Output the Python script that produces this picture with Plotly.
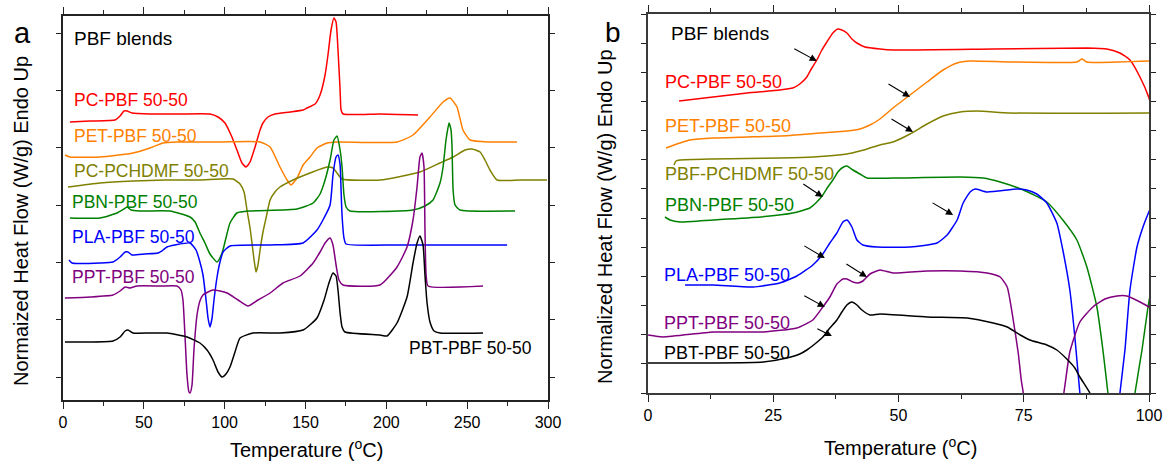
import plotly.graph_objects as go

FONT = "Liberation Sans, Arial, Helvetica, sans-serif"

# ---------------- Panel a : full DSC scans (Temperature in degC, heat flow in a.u.) ----------------
a_pc_pbf_T = [4.3, 16.7, 32.2, 35.3, 37.7, 39.6, 42.7, 53.8, 72.4, 90.9, 95.9, 100.2, 104.5, 107.6, 110.7, 113.2,
              115.7, 118.8, 121.9, 123.7, 126.8, 131.1, 140.4, 148.5, 150.9, 155.9, 159.0, 162.1, 163.9, 165.8,
              167.6, 168.9, 170.1, 171.4, 172.0, 173.2, 196.1, 219.6]
a_pc_pbf_Y = [278, 279, 280, 284, 289, 289, 287, 286, 286, 286, 283, 277, 263, 250, 237, 233, 238, 253, 270, 277,
              283, 286, 288, 290, 292, 296, 305, 325, 345, 370, 382, 378, 350, 310, 290, 286, 286, 285]

a_pet_pbf_T = [1.2, 4.3, 22.9, 43.3, 53.8, 61.9, 70.5, 97.1, 121.9, 128.1, 134.2, 138.6, 141.0, 144.8, 148.5,
               152.8, 157.1, 163.3, 169.5, 206.6, 216.5, 227.0, 235.1, 239.4, 243.7, 247.4, 251.8, 264.1, 280.8]
a_pet_pbf_Y = [245, 243, 243, 247, 252, 257, 258, 258, 258, 253, 233, 220, 215, 222, 235, 243, 252, 257, 258, 258,
               265, 283, 298, 302, 293, 270, 260, 258, 258]

a_pc_pchdmf_T = [3.1, 22.9, 43.3, 63.1, 84.7, 105.2, 109.5, 112.0, 113.8, 115.7, 116.9, 118.2, 119.4, 120.6, 121.9,
                 123.7, 125.6, 128.1, 131.1, 134.2, 142.3, 152.8, 163.3, 167.0, 169.5, 172.6, 196.1, 220.8, 233.2,
                 241.3, 248.7, 253.0, 258.0, 261.0, 264.1, 268.5, 282.7, 299.4]
a_pc_pchdmf_Y = [213, 217, 219, 220, 220, 221, 216, 208, 190, 172, 157, 140, 128, 135, 150, 168, 182, 200, 208, 213,
                 220, 227, 233, 232, 227, 221, 220, 228, 237, 243, 250, 251, 248, 240, 230, 220, 220, 220]

a_pbn_pbf_T = [4.3, 22.9, 33.4, 37.7, 39.6, 42.1, 47.6, 66.2, 78.6, 81.7, 84.7, 87.8, 90.9, 95.3, 98.4, 100.8,
               103.3, 107.6, 115.7, 144.8, 154.7, 159.0, 162.1, 165.2, 167.6, 169.5, 171.4, 172.6, 173.8, 175.1,
               177.5, 216.5, 223.9, 228.9, 233.2, 235.1, 236.9, 238.8, 240.0, 240.6, 241.3, 242.5, 245.6, 279.6]
a_pbn_pbf_Y = [182, 182, 187, 191, 193, 190, 189, 189, 183, 178, 167, 157, 146, 138, 147, 162, 177, 187, 189, 191,
               197, 206, 220, 240, 260, 264, 250, 233, 205, 193, 189, 190, 194, 200, 217, 233, 260, 277, 270, 255,
               210, 195, 190, 189]

a_pla_pbf_T = [3.7, 5.6, 22.9, 30.9, 35.3, 38.4, 40.2, 42.7, 50.7, 58.8, 61.9, 64.3, 69.3, 78.6, 82.3, 84.7, 86.6,
               88.5, 89.7, 90.9, 92.2, 93.4, 95.3, 97.1, 99.0, 103.3, 128.1, 148.5, 157.1, 160.8, 165.2, 167.0,
               168.9, 170.1, 171.4, 172.0, 172.6, 173.8, 175.1, 208.5, 274.7]
a_pla_pbf_Y = [140, 137, 137, 138, 143, 148, 148, 145, 146, 147, 150, 153, 155, 157, 150, 138, 125, 100, 82, 73,
               82, 100, 123, 138, 148, 154, 155, 157, 170, 180, 195, 225, 243, 245, 235, 210, 185, 162, 156, 155, 155]

a_ppt_pbf_T = [1.2, 16.7, 30.9, 35.3, 38.4, 41.4, 45.8, 60.0, 70.5, 73.0, 74.2, 75.5, 76.7, 77.9, 78.6, 79.8, 81.0,
               82.9, 84.7, 86.6, 89.7, 92.8, 97.1, 101.5, 108.3, 114.4, 120.6, 128.1, 136.1, 146.6, 154.7, 159.0,
               162.1, 165.2, 167.0, 168.9, 170.7, 173.2, 196.1, 206.6, 212.8, 216.5, 219.0, 220.8, 222.1, 223.3,
               223.9, 224.6, 225.8, 259.8]
a_ppt_pbf_Y = [102, 103, 105, 109, 113, 112, 114, 114, 114, 110, 100, 63, 25, 8, 7, 15, 50, 85, 99, 105, 108, 110,
               109, 107, 100, 94, 100, 107, 117, 124, 137, 148, 157, 162, 155, 135, 120, 115, 115, 133, 153, 180,
               213, 243, 247, 233, 170, 125, 114, 114]

a_pbt_pbf_T = [1.2, 16.7, 30.9, 35.3, 38.4, 40.2, 43.3, 53.8, 64.3, 76.7, 84.7, 89.1, 92.8, 95.9, 98.4, 100.8,
               103.3, 106.4, 109.5, 117.5, 134.2, 148.5, 157.1, 161.5, 164.5, 167.0, 168.9, 170.1, 171.4, 172.6,
               174.4, 196.1, 200.4, 206.6, 212.8, 216.5, 219.0, 220.8, 222.7, 223.9, 225.2, 227.0, 229.5, 233.2,
               259.8]
a_pbt_pbf_Y = [58, 58, 59, 63, 69, 70, 67, 67, 67, 63, 57, 50, 40, 28, 23, 26, 33, 48, 62, 67, 67, 70, 82, 100, 117,
               127, 124, 110, 87, 73, 68, 65, 64, 77, 103, 137, 157, 164, 155, 125, 97, 78, 69, 67, 67]

# ---------------- Panel b : zoom on the glass-transition region ----------------
b_pc_pbf_T = [6.2, 13.0, 19.8, 26.3, 28.9, 30.3, 31.7, 32.7, 33.7, 34.7, 35.7, 36.9, 37.9, 38.7, 39.7, 40.7, 41.7,
              43.3, 46.3, 48.9, 68.9, 87.6, 91.6, 94.2, 96.2, 98.2, 100.0, 100.6]
b_pc_pbf_Y = [292, 296, 300, 303, 305, 309, 316, 325, 333, 343, 351, 360, 364, 363, 360, 354, 350, 346, 344, 343,
              344, 345, 344, 340, 333, 316, 295, 283]

b_pet_pbf_T = [3.6, 6.4, 8.4, 13.0, 19.8, 26.3, 34.3, 39.7, 42.3, 44.3, 46.3, 48.9, 52.3, 55.7, 58.9, 61.7, 64.3,
               72.3, 85.6, 86.6, 87.6, 100.0]
b_pet_pbf_Y = [245, 250, 253, 255, 256, 257, 260, 262, 264, 268, 274, 285, 298, 311, 323, 330, 332, 331, 331, 334,
               331, 332]

b_pbf_pchdmf_T = [5.2, 5.6, 6.4, 13.0, 26.3, 32.9, 39.7, 42.3, 44.3, 46.3, 48.9, 52.3, 55.7, 58.9, 62.3, 65.7,
                  72.3, 100.0]
b_pbf_pchdmf_Y = [228, 232, 233, 234, 235, 236, 239, 242, 245, 248, 251, 259, 269, 277, 281, 282, 280, 280]

b_pbn_pbf_T = [3.4, 4.4, 6.4, 13.0, 22.4, 28.9, 32.3, 33.7, 34.9, 35.9, 36.9, 37.9, 38.7, 39.7, 40.9, 42.3, 43.7,
               48.9, 62.3, 66.9, 70.3, 74.9, 79.6, 82.8, 85.6, 87.6, 89.6, 90.8, 91.8, 92.6, 94.4, 96.2, 97.2, 98.6,
               99.8, 100.6]
b_pbn_pbf_Y = [176, 173, 171, 173, 176, 180, 185, 191, 198, 206, 213, 221, 225, 227, 223, 219, 215, 215, 216, 215,
               211, 203, 191, 173, 153, 126, 86, 43, 0, -37, -67, -37, 0, 43, 86, 108]

b_pla_pbf_T = [7.4, 13.0, 21.0, 26.3, 29.7, 32.9, 34.9, 36.3, 37.7, 38.9, 39.7, 40.7, 41.7, 42.9, 45.7, 52.3, 57.7,
               59.7, 61.7, 62.9, 64.3, 65.3, 67.7, 73.7, 75.6, 77.6, 79.6, 81.6, 82.8, 84.2, 85.2, 86.2, 87.2, 90.2,
               93.2, 94.2, 95.2, 96.2, 97.6, 98.8, 99.8, 100.6]
b_pla_pbf_Y = [108, 108, 106, 110, 117, 128, 139, 150, 160, 171, 173, 166, 153, 148, 146, 146, 150, 158, 173, 190,
               201, 204, 201, 204, 203, 199, 190, 170, 143, 103, 56, 0, -47, -77, -47, 0, 43, 103, 146, 166, 179, 188]

b_ppt_pbf_T = [0.0, 3.0, 13.0, 23.0, 29.7, 32.9, 34.9, 36.3, 37.7, 38.9, 39.7, 40.9, 41.9, 42.9, 44.3, 46.3, 48.9,
               55.7, 62.3, 67.7, 70.3, 71.7, 72.9, 73.9, 74.5, 74.9, 75.5, 78.2, 81.2, 83.0, 84.2, 86.2, 88.8, 91.2,
               93.6, 95.6, 98.2, 100.0, 100.6]
b_ppt_pbf_Y = [58, 56, 61, 61, 65, 73, 86, 96, 109, 114, 114, 111, 110, 112, 119, 123, 120, 122, 122, 120, 116, 106,
               73, 40, 13, 0, -37, -77, -47, 0, 41, 71, 86, 94, 97, 97, 91, 86, 84]

b_pbt_pbf_T = [0.0, 13.0, 23.0, 27.7, 30.3, 31.7, 33.3, 34.9, 36.3, 37.7, 38.7, 39.7, 40.7, 41.7, 42.7, 44.3, 46.3,
               55.7, 63.7, 68.9, 71.7, 74.3, 76.2, 79.6, 81.6, 83.6, 85.2, 86.2, 88.2, 89.2]
b_pbt_pbf_Y = [30, 30, 31, 35, 39, 43, 49, 56, 65, 73, 81, 88, 91, 88, 83, 78, 79, 76, 75, 70, 66, 58, 53, 48, 43,
               34, 25, 16, 0, -12]

# labels (text, colour)
a_labels = ["PC-PBF 50-50", "PET-PBF 50-50", "PC-PCHDMF 50-50", "PBN-PBF 50-50",
            "PLA-PBF 50-50", "PPT-PBF 50-50", "PBT-PBF 50-50"]
b_labels = ["PC-PBF 50-50", "PET-PBF 50-50", "PBF-PCHDMF 50-50", "PBN-PBF 50-50",
            "PLA-PBF 50-50", "PPT-PBF 50-50", "PBT-PBF 50-50"]
colors = ["#FF0000", "#FF8000", "#808000", "#008000", "#0000FF", "#800080", "#000000"]

a_series = [(a_pc_pbf_T, a_pc_pbf_Y), (a_pet_pbf_T, a_pet_pbf_Y), (a_pc_pchdmf_T, a_pc_pchdmf_Y),
            (a_pbn_pbf_T, a_pbn_pbf_Y), (a_pla_pbf_T, a_pla_pbf_Y), (a_ppt_pbf_T, a_ppt_pbf_Y),
            (a_pbt_pbf_T, a_pbt_pbf_Y)]
b_series = [(b_pc_pbf_T, b_pc_pbf_Y), (b_pet_pbf_T, b_pet_pbf_Y), (b_pbf_pchdmf_T, b_pbf_pchdmf_Y),
            (b_pbn_pbf_T, b_pbn_pbf_Y), (b_pla_pbf_T, b_pla_pbf_Y), (b_ppt_pbf_T, b_ppt_pbf_Y),
            (b_pbt_pbf_T, b_pbt_pbf_Y)]

# label anchor points (data coords)
a_label_pos = [(5.6, 300), (5.6, 264), (5.6, 229), (4.3, 198), (4.3, 163), (4.3, 123), (212.8, 52)]
b_label_pos = [(3.0, 311), (3.0, 267), (3.0, 219), (3.0, 188), (2.8, 118), (2.8, 70), (2.8, 40)]

# arrows in panel b: (head T, head Y, tail T, tail Y)
b_arrows = [(33.7, 332, 28.9, 345), (52.3, 296, 47.7, 310), (52.9, 261, 48.3, 275), (34.9, 196, 30.7, 210),
            (60.9, 178, 56.5, 191), (35.3, 135, 30.9, 148), (43.7, 116, 39.3, 130), (35.3, 86, 30.9, 98),
            (36.7, 57, 33.5, 65)]

fig = go.Figure()
for (T, Y), c in zip(a_series, colors):
    fig.add_trace(go.Scatter(x=T, y=Y, mode="lines", line=dict(color=c, width=1.5, shape="spline", smoothing=0.5),
                             xaxis="x", yaxis="y", showlegend=False, hoverinfo="skip"))
for (T, Y), c in zip(b_series, colors):
    fig.add_trace(go.Scatter(x=T, y=Y, mode="lines", line=dict(color=c, width=1.5, shape="spline", smoothing=0.5),
                             xaxis="x2", yaxis="y2", showlegend=False, hoverinfo="skip"))

ann = []
# curve labels
ann.append(dict(x=5.6, y=362, xref="x", yref="y", text="PBF blends", showarrow=False, xanchor="left",
                yanchor="middle", font=dict(family=FONT, size=19, color="#000")))
for (x, y), t, c in zip(a_label_pos, a_labels, colors):
    ann.append(dict(x=x, y=y, xref="x", yref="y", text=t, showarrow=False, xanchor="left", yanchor="middle",
                    font=dict(family=FONT, size=17.5, color=c)))
ann.append(dict(x=4.2, y=359, xref="x2", yref="y2", text="PBF blends", showarrow=False, xanchor="left",
                yanchor="middle", font=dict(family=FONT, size=19, color="#000")))
for (x, y), t, c in zip(b_label_pos, b_labels, colors):
    ann.append(dict(x=x, y=y, xref="x2", yref="y2", text=t, showarrow=False, xanchor="left", yanchor="middle",
                    font=dict(family=FONT, size=18, color=c)))
for hx, hy, tx, ty in b_arrows:
    ann.append(dict(x=hx, y=hy, xref="x2", yref="y2", ax=tx, ay=ty, axref="x2", ayref="y2", text="",
                    showarrow=True, arrowhead=2, arrowsize=1.3, arrowwidth=1.1, arrowcolor="#000", standoff=0))

# panel letters
ann.append(dict(x=22 / 1163, y=1 - 33 / 462, xref="paper", yref="paper", text="a", showarrow=False,
                xanchor="center", yanchor="middle", font=dict(family=FONT, size=29, color="#000")))
ann.append(dict(x=613 / 1163, y=1 - 33 / 462, xref="paper", yref="paper", text="b", showarrow=False,
                xanchor="center", yanchor="middle", font=dict(family=FONT, size=28, color="#000")))
# axis titles
ann.append(dict(x=21 / 1163, y=1 - 221 / 462, xref="paper", yref="paper", text="Normaized Heat Flow (W/g) Endo Up",
                textangle=-90, showarrow=False, xanchor="center", yanchor="middle",
                font=dict(family=FONT, size=20, color="#000")))
ann.append(dict(x=605 / 1163, y=1 - 217 / 462, xref="paper", yref="paper", text="Normalized Heat Flow (W/g) Endo Up",
                textangle=-90, showarrow=False, xanchor="center", yanchor="middle",
                font=dict(family=FONT, size=20, color="#000")))
ann.append(dict(x=306 / 1163, y=1 - 448 / 462, xref="paper", yref="paper", text="Temperature (<sup>o</sup>C)",
                showarrow=False, xanchor="center", yanchor="middle", font=dict(family=FONT, size=20, color="#000")))
ann.append(dict(x=900 / 1163, y=1 - 446 / 462, xref="paper", yref="paper", text="Temperature (<sup>o</sup>C)",
                showarrow=False, xanchor="center", yanchor="middle", font=dict(family=FONT, size=20, color="#000")))


def axis_style(line_color, line_width):
    return dict(showgrid=False, zeroline=False, showline=True, linecolor=line_color, linewidth=line_width,
                mirror="allticks", ticks="outside", tickcolor="#222", tickwidth=1.2, automargin=False,
                tickfont=dict(family=FONT, size=16, color="#000"))


fig.update_layout(
    width=1163, height=462, autosize=False,
    margin=dict(l=0, r=0, t=0, b=0, pad=0),
    paper_bgcolor="white", plot_bgcolor="white",
    font=dict(family=FONT),
    xaxis=dict(domain=[63 / 1163, 548 / 1163], range=[0, 300], tickmode="linear", tick0=0, dtick=50, ticklen=7,
               minor=dict(dtick=25, ticklen=4, ticks="outside", tickcolor="#222"), anchor="y",
               **axis_style("#222", 1.5)),
    yaxis=dict(domain=[1 - 400 / 462, 1 - 16 / 462], range=[0, 384], tickmode="linear", tick0=23, dtick=57.3,
               ticklen=5, showticklabels=False, anchor="x", **axis_style("#222", 1.5)),
    xaxis2=dict(domain=[648 / 1163, 1149 / 1163], range=[0, 100], tickmode="linear", tick0=0, dtick=25, ticklen=7,
                minor=dict(dtick=12.5, ticklen=4, ticks="outside", tickcolor="#222"), anchor="y2",
                **axis_style("#3a3a3a", 2)),
    yaxis2=dict(domain=[1 - 393 / 462, 1 - 14 / 462], range=[0, 379], tickmode="linear", tick0=0, dtick=29.15,
                ticklen=5, showticklabels=False, anchor="x2", **axis_style("#3a3a3a", 2)),
    annotations=ann,
)

fig.write_html("out.html")
